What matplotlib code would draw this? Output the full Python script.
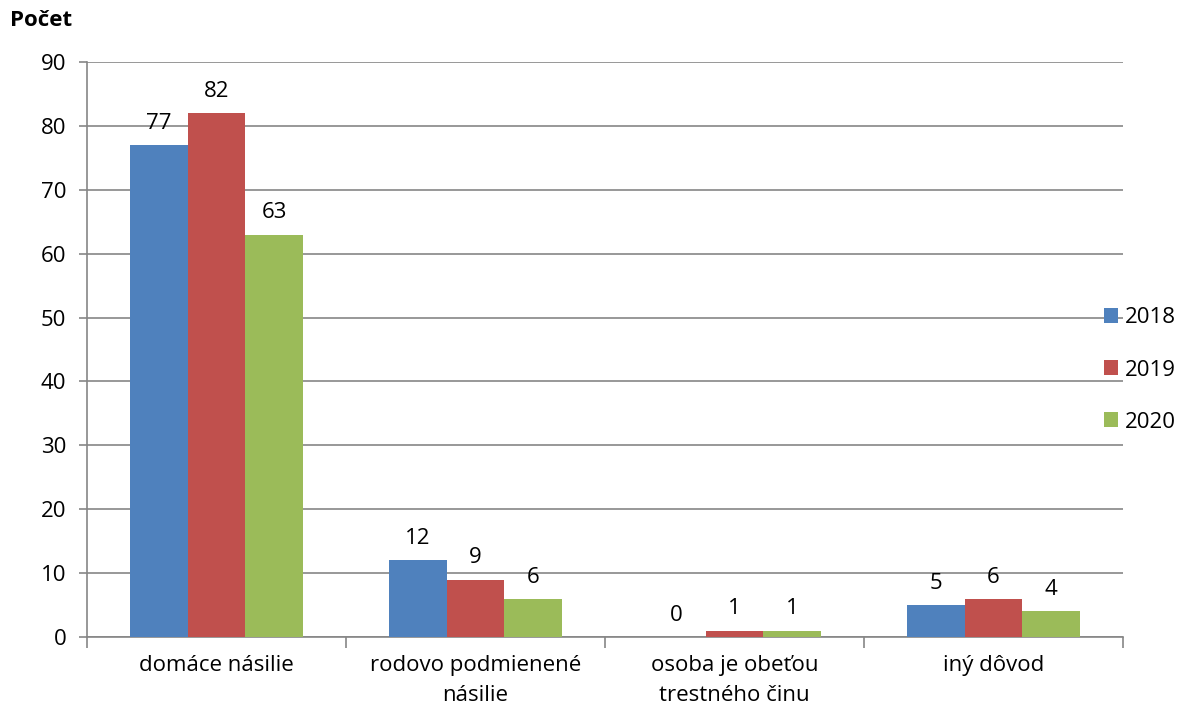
import matplotlib
matplotlib.use("Agg")
import matplotlib.pyplot as plt
import numpy as np

categories = ["domáce násilie", "rodovo podmienené\nnásilie", "osoba je obeťou\ntrestného činu", "iný dôvod"]
years = ["2018", "2019", "2020"]
v2018 = [77, 12, 0, 5]
v2019 = [82, 9, 1, 6]
v2020 = [63, 6, 1, 4]
yticks = [0, 10, 20, 30, 40, 50, 60, 70, 80, 90]

colors = ["#4F81BD", "#C0504D", "#9BBB59"]
plt.rcParams['font.family'] = ['Open Sans', 'DejaVu Sans']
FS = 16

fig = plt.figure(figsize=(11.78, 7.13), dpi=100)
ax = fig.add_axes([87/1178, 1-637/713, (1123-87)/1178, (637-62)/713])

x = np.arange(len(categories))
w = 0.223
series = [v2018, v2019, v2020]
for i, (vals, c, yr) in enumerate(zip(series, colors, years)):
    pos = x + (i - 1) * w
    ax.bar(pos, vals, width=w, color=c, label=yr, zorder=3, edgecolor='none')
    for p, v in zip(pos, vals):
        ax.annotate(str(v), (p, v), xytext=(0, 8), textcoords='offset points',
                    ha='center', va='bottom', fontsize=FS)

ax.set_xlim(-0.5, len(categories) - 0.5)
ax.set_ylim(0, 90)
ax.set_yticks(yticks)
ax.yaxis.grid(True, color='#868686', linewidth=1.2, zorder=0)
ax.set_axisbelow(True)
for s in ['top', 'right']:
    ax.spines[s].set_visible(False)
for s in ['left', 'bottom']:
    ax.spines[s].set_color('#868686')
    ax.spines[s].set_linewidth(1.2)

ax.set_xticks(x)
ax.set_xticklabels(categories, fontsize=FS, linespacing=1.55)
ax.tick_params(axis='x', length=0, pad=13)
ax.set_xticks(np.arange(len(categories) + 1) - 0.5, minor=True)
ax.tick_params(axis='x', which='minor', length=8, color='#868686', width=1.2)
ax.tick_params(axis='y', length=6, color='#868686', width=1.2, labelsize=FS, pad=9)

fig.text(10/1178, 1-20/713, "Počet", fontsize=FS, fontweight='bold', va='center', ha='left')

leg = ax.legend(loc='center left', bbox_to_anchor=(1095/1178, 1-370/713), bbox_transform=fig.transFigure,
                frameon=False, fontsize=FS, handlelength=0.65, handleheight=0.65,
                handletextpad=0.3, labelspacing=1.4, borderaxespad=0)

fig.savefig("out.png", dpi=100)
